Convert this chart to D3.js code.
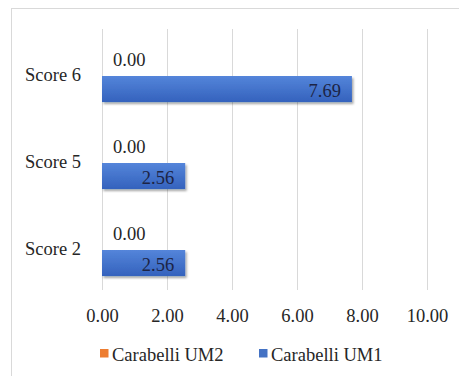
<!DOCTYPE html>
<html>
<head>
<meta charset="utf-8">
<script src="https://cdn.jsdelivr.net/npm/d3@7"></script>
<style>
  html, body { margin: 0; padding: 0; background: #fff; }
  svg { display: block; }
  svg text { font-family: "Liberation Serif", Tinos, "Times New Roman", Times, "DejaVu Serif", serif !important; }
</style>
</head>
<body>
<svg id="chart" width="459" height="376"></svg>
<script>
// Carabelli trait scores, percentages per upper molar
const categories = ["Score 6", "Score 5", "Score 2"];
const seriesNames = ["Carabelli UM2", "Carabelli UM1"];
const um2Values = [0.00, 0.00, 0.00];
const um1Values = [7.69, 2.56, 2.56];
const xTicks = [0, 2, 4, 6, 8, 10];
const seriesColors = ["#ED7D31", "#4472C4"];

const rows = categories.map((c, i) => ({
  category: c,
  values: [
    { series: seriesNames[0], value: um2Values[i] },
    { series: seriesNames[1], value: um1Values[i] }
  ]
}));

const svg = d3.select("#chart");
const fontSize = 18.5;
const serif = "'Liberation Serif', Tinos, 'Times New Roman', Times, 'DejaVu Serif', serif";

// Defs: bar gradient and soft shadow
const defs = svg.append("defs");
const grad = defs.append("linearGradient")
  .attr("id", "barGrad").attr("x1", 0).attr("y1", 0).attr("x2", 0).attr("y2", 1);
grad.append("stop").attr("offset", "0%").attr("stop-color", "#5485da");
grad.append("stop").attr("offset", "100%").attr("stop-color", "#3462bd");
const shadow = defs.append("filter").attr("id", "barShadow")
  .attr("x", "-10%").attr("y", "-20%").attr("width", "130%").attr("height", "160%");
shadow.append("feDropShadow")
  .attr("dx", 1.5).attr("dy", 2).attr("stdDeviation", 1.2)
  .attr("flood-color", "#000").attr("flood-opacity", 0.35);

// Chart frame
svg.append("rect")
  .attr("x", 11.5).attr("y", 8.5).attr("width", 470).attr("height", 390)
  .attr("fill", "#fff").attr("stroke", "#d9d9d9").attr("stroke-width", 1);

const x = d3.scaleLinear().domain([0, 10]).range([102, 427]);
const y = d3.scaleBand().domain(categories).range([32.5, 293.5]).paddingInner(0).paddingOuter(0);
const ySub = d3.scaleBand().domain(seriesNames).range([0, y.bandwidth()])
  .paddingInner(0).paddingOuter(0.67);

// Vertical gridlines
svg.append("g")
  .selectAll("line")
  .data(xTicks)
  .join("line")
  .attr("x1", d => Math.round(x(d)) + 0.5)
  .attr("x2", d => Math.round(x(d)) + 0.5)
  .attr("y1", 29)
  .attr("y2", 290)
  .attr("stroke", "#d9d9d9")
  .attr("stroke-width", 1);

// X axis tick labels
const xAxis = d3.axisBottom(x).tickValues(xTicks).tickFormat(d3.format(".2f")).tickSize(0).tickPadding(0);
const xg = svg.append("g").attr("transform", "translate(0,308)").call(xAxis)
  .attr("font-family", serif).attr("font-size", fontSize);
xg.select(".domain").remove();
xg.selectAll("text")
  .attr("fill", "#262626")
  .attr("dy", null)
  .attr("y", 13.5);

// Category labels
const yAxis = d3.axisLeft(y).tickSize(0).tickPadding(0);
const yg = svg.append("g").attr("transform", "translate(81,0)").call(yAxis)
  .attr("font-family", serif).attr("font-size", fontSize);
yg.select(".domain").remove();
yg.selectAll("text")
  .attr("fill", "#262626")
  .attr("dy", null)
  .attr("x", 0)
  .attr("y", 4.5);

// Bars
const groups = svg.append("g")
  .attr("font-family", serif)
  .selectAll("g")
  .data(rows)
  .join("g")
  .attr("transform", d => `translate(0,${y(d.category)})`);

groups.selectAll("rect")
  .data(d => d.values.filter(v => v.value > 0))
  .join("rect")
  .attr("x", x(0))
  .attr("y", v => ySub(v.series))
  .attr("width", v => x(v.value) - x(0))
  .attr("height", ySub.bandwidth())
  .attr("fill", v => v.series === seriesNames[1] ? "url(#barGrad)" : seriesColors[0])
  .attr("filter", "url(#barShadow)");

// Value labels: zero values sit outside the bar end, others inside the end
groups.selectAll("text.value")
  .data(d => d.values)
  .join("text")
  .attr("class", "value")
  .attr("font-size", fontSize)
  .attr("fill", v => v.value > 0 ? "#1c2445" : "#262626")
  .attr("text-anchor", v => v.value > 0 ? "end" : "start")
  .attr("x", v => v.value > 0 ? x(v.value) - 11 : x(v.value) + 11)
  .attr("y", v => ySub(v.series) + ySub.bandwidth() / 2 + (v.value > 0 ? 7.5 : 3.5))
  .text(v => d3.format(".2f")(v.value));

// Legend
const legendItems = [
  { name: seriesNames[0], color: seriesColors[0], x: 100 },
  { name: seriesNames[1], color: seriesColors[1], x: 259 }
];
const lg = svg.append("g").attr("font-family", serif)
  .selectAll("g").data(legendItems).join("g")
  .attr("transform", d => `translate(${d.x},349)`);
lg.append("rect").attr("width", 8.5).attr("height", 8.5).attr("fill", d => d.color);
lg.append("text")
  .attr("x", 12).attr("y", 12)
  .attr("font-size", fontSize)
  .attr("fill", "#262626")
  .text(d => d.name);
</script>
</body>
</html>
